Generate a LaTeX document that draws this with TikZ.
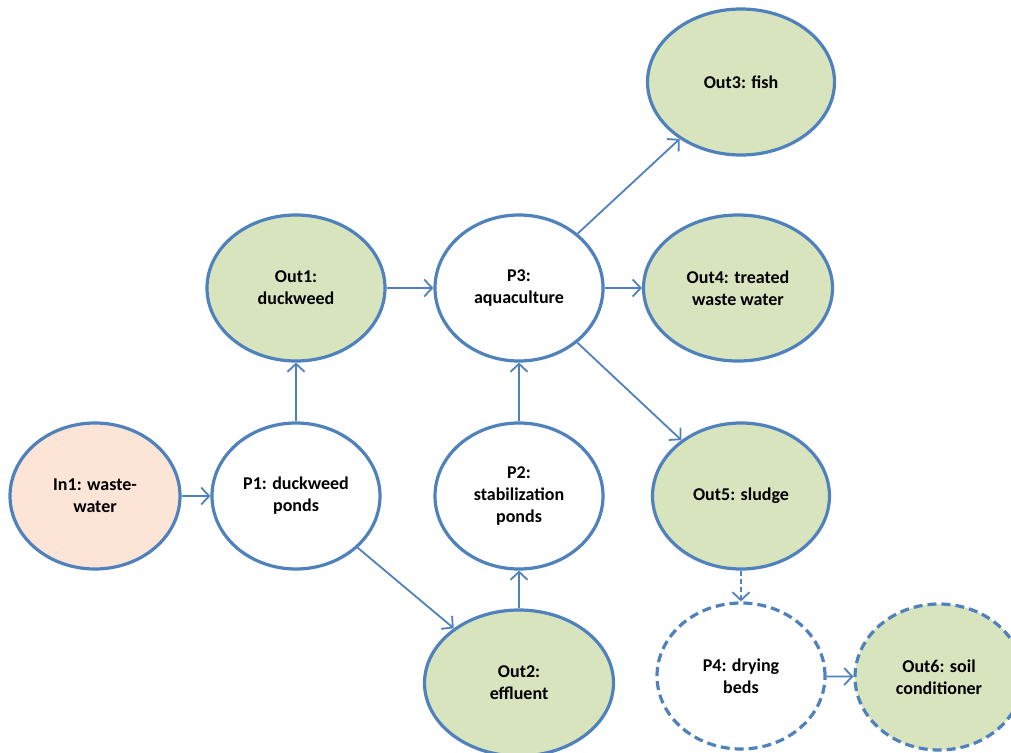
\documentclass[tikz,border=0pt]{standalone}
\usepackage{fontspec}
\setmainfont{Carlito}
\usepackage{tikz}
\usetikzlibrary{shapes.geometric}
\usetikzlibrary{arrows.meta}
\definecolor{flowblue}{RGB}{79,129,189}
\definecolor{outgreen}{RGB}{215,228,189}
\definecolor{inpeach}{RGB}{252,228,214}
\tikzset{
  blob/.style={ellipse, draw=flowblue, line width=3.2pt, inner sep=0pt, align=center,
    minimum width=168pt, minimum height=146pt, font=\fontsize{18}{22}\selectfont\bfseries},
  procblob/.style={blob, fill=white},
  outblob/.style={blob, fill=outgreen, minimum width=184pt},
  inblob/.style={blob, fill=inpeach, minimum width=170pt},
  dashblob/.style={dash pattern=on 9pt off 5pt},
  flow/.style={draw=flowblue, line width=1.8pt, -{Straight Barb[length=8pt,width=17pt,line width=1.8pt]}}
}

\begin{document}
\begin{tikzpicture}[x=1pt, y=-1pt]
  \useasboundingbox (0, 0) rectangle (1011, 752);

  \node[inblob] (in1) at (95, 496) {In1: waste-\\water};
  \node[procblob] (p1) at (296, 496) {P1: duckweed\\ponds};
  \node[outblob, minimum width=178pt] (out1) at (296, 288) {Out1:\\duckweed};
  \node[procblob] (p3) at (519, 288) {P3:\\aquaculture};
  \node[procblob] (p2) at (519, 496) {P2:\\stabilization\\ponds};
  \node[outblob, minimum width=189pt] (out2) at (519, 683) {Out2:\\effluent};
  \node[outblob, minimum width=187pt] (out3) at (741, 82) {Out3: fish};
  \node[outblob, minimum width=189pt] (out4) at (738, 288) {Out4: treated\\waste water};
  \node[outblob, minimum width=177pt] (out5) at (741, 496) {Out5: sludge};
  \node[procblob, dashblob] (p4) at (741, 676) {P4: drying\\beds};
  \node[outblob, dashblob, minimum width=168pt] (out6) at (939, 677) {Out6: soil\\conditioner};

  \draw[flow] (in1) -- (p1);
  \draw[flow] (p1) -- (out1);
  \draw[flow] (p1) -- (out2);
  \draw[flow] (out1) -- (p3);
  \draw[flow] (out2) -- (p2);
  \draw[flow] (p2) -- (p3);
  \draw[flow] (p3) -- (out3);
  \draw[flow] (p3) -- (out4);
  \draw[flow] (p3) -- (out5);
  \draw[flow, dash pattern=on 5pt off 3pt] (out5) -- (p4);
  \draw[flow] (p4) -- (out6);
\end{tikzpicture}
\end{document}
